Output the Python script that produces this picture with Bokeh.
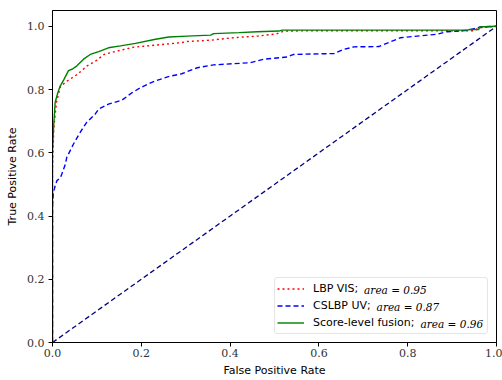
from bokeh.plotting import figure
from bokeh.models import (Range1d, FixedTicker, PrintfTickFormatter, Legend, LegendItem,
                          Label)
from bokeh.embed import file_html
from bokeh.resources import INLINE

# ---- data ----
lbp_fpr = [0, 0, 0.003, 0.009, 0.018, 0.033, 0.056, 0.078, 0.100, 0.116, 0.146, 0.183, 0.228,
           0.288, 0.303, 0.356, 0.401, 0.438, 0.461, 0.498, 0.506, 0.521, 0.600, 0.950, 0.960, 1.0]
lbp_tpr = [0, 0.55, 0.68, 0.76, 0.81, 0.827, 0.848, 0.875, 0.893, 0.911, 0.922, 0.934, 0.940,
           0.948, 0.952, 0.956, 0.963, 0.967, 0.969, 0.975, 0.977, 0.985, 0.986, 0.986, 0.995, 1.0]

cs_fpr = [0, 0, 0.002, 0.007, 0.010, 0.018, 0.021, 0.029, 0.032, 0.047, 0.062, 0.077, 0.096,
          0.104, 0.126, 0.156, 0.179, 0.201, 0.231, 0.261, 0.291, 0.326, 0.363, 0.446, 0.476,
          0.529, 0.543, 0.634, 0.656, 0.679, 0.735, 0.761, 0.784, 0.821, 0.866, 0.889, 0.934,
          0.964, 1.0]
cs_tpr = [0, 0.43, 0.475, 0.500, 0.512, 0.522, 0.533, 0.564, 0.585, 0.627, 0.664, 0.696, 0.722,
          0.738, 0.754, 0.766, 0.790, 0.808, 0.827, 0.841, 0.850, 0.869, 0.878, 0.885, 0.896,
          0.903, 0.911, 0.914, 0.927, 0.935, 0.936, 0.951, 0.964, 0.969, 0.975, 0.983, 0.987,
          0.998, 1.0]

fus_fpr = [0, 0, 0.002, 0.006, 0.012, 0.017, 0.025, 0.036, 0.045, 0.055, 0.070, 0.085, 0.104,
           0.126, 0.153, 0.187, 0.232, 0.262, 0.303, 0.356, 0.363, 0.420, 0.461, 0.510, 0.517,
           0.934, 0.940, 0.960, 0.962, 1.0]
fus_tpr = [0, 0.60, 0.67, 0.76, 0.79, 0.81, 0.83, 0.86, 0.865, 0.875, 0.896, 0.911, 0.920,
           0.932, 0.938, 0.946, 0.959, 0.966, 0.969, 0.972, 0.977, 0.980, 0.983, 0.985, 0.988,
           0.988, 0.990, 0.990, 0.998, 1.0]

chance = [0.0, 1.0]

series_names = ["LBP VIS;", "CSLBP UV;", "Score-level fusion;"]
series_auc = ["area = 0.95", "area = 0.87", "area = 0.96"]

ticks = [0.0, 0.2, 0.4, 0.6, 0.8, 1.0]

# ---- figure ----
p = figure(width=502, height=380, output_backend="svg", toolbar_location=None,
           x_range=Range1d(0, 1), y_range=Range1d(0, 1.05),
           min_border_left=52, min_border_right=6, min_border_top=10, min_border_bottom=38)
p.background_fill_color = "white"
p.border_fill_color = "white"
p.outline_line_color = "black"
p.outline_line_width = 1
p.grid.visible = False

for ax in (p.xaxis[0], p.yaxis[0]):
    ax.ticker = FixedTicker(ticks=ticks)
    ax.formatter = PrintfTickFormatter(format="%.1f")
    ax.minor_tick_line_color = None
    ax.major_tick_in = 0
    ax.major_tick_out = 4
    ax.major_label_text_font = "DejaVu Serif"
    ax.major_label_text_font_size = "11px"
    ax.major_label_text_color = "#333333"
    ax.axis_label_text_font = "DejaVu Sans"
    ax.axis_label_text_font_size = "11px"
    ax.axis_label_text_font_style = "normal"
    ax.axis_label_text_color = "black"
    ax.axis_line_color = "black"
    ax.major_tick_line_color = "black"

p.xaxis.major_label_standoff = 2
p.yaxis.major_label_standoff = 4
p.xaxis.axis_label = "False Positive Rate"
p.yaxis.axis_label = "True Positive Rate"
p.xaxis.axis_label_standoff = 4
p.yaxis.axis_label_standoff = 5

r_diag = p.line(chance, chance, line_color="navy", line_width=1.3, line_dash="5 3")
r_lbp = p.line(lbp_fpr, lbp_tpr, line_color="red", line_width=1.4, line_dash="2 3")
r_cs = p.line(cs_fpr, cs_tpr, line_color="blue", line_width=1.4, line_dash="5 3")
r_fus = p.line(fus_fpr, fus_tpr, line_color="green", line_width=1.4)

legend = Legend(items=[LegendItem(label=series_names[0], renderers=[r_lbp]),
                       LegendItem(label=series_names[1], renderers=[r_cs]),
                       LegendItem(label=series_names[2], renderers=[r_fus])],
                location="bottom_right")
legend.label_text_font = "DejaVu Sans"
legend.label_text_font_size = "11px"
legend.label_text_color = "black"
legend.glyph_width = 27
legend.glyph_height = 17
legend.label_height = 17
legend.label_standoff = 9
legend.label_width = 172
legend.spacing = 0
legend.padding = 2
legend.margin = 8
legend.border_line_color = "#cccccc"
legend.border_line_width = 1
legend.background_fill_alpha = 0.0
legend.border_radius = 3
p.add_layout(legend)

# italic "area = ..." parts of the legend entries
auc_x = [0.7018, 0.7300, 0.8288]
auc_y = [0.1660, 0.1123, 0.0600]
for txt, xx, yy in zip(series_auc, auc_x, auc_y):
    p.add_layout(Label(x=xx, y=yy, text=txt, text_font="DejaVu Serif",
                       text_font_style="italic", text_font_size="10.5px",
                       text_baseline="middle", text_align="left", text_color="black",
                       level="overlay"))

open("out.html", "w").write(file_html(p, INLINE))
